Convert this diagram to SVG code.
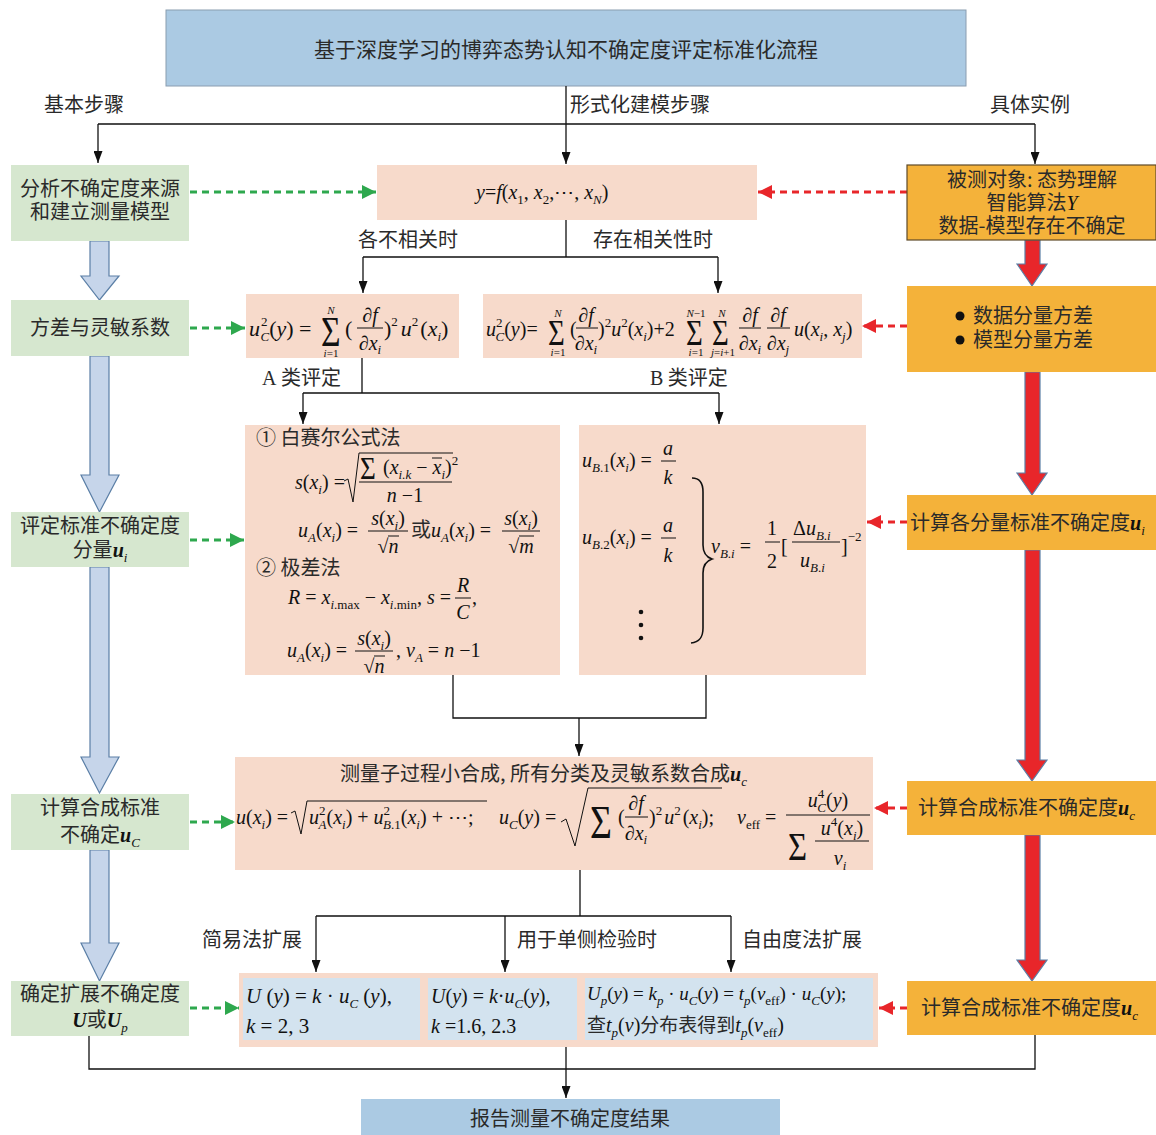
<svg xmlns="http://www.w3.org/2000/svg" width="1156" height="1135" viewBox="0 0 1156 1135">
<style>
.cn{font-family:"Noto Sans CJK SC","Noto Sans",sans-serif;font-size:20px;fill:#2a2a2a}
.m{font-family:"Liberation Serif","Times New Roman",serif;font-size:20px;font-style:italic;fill:#111}
.n{font-style:normal}
.s{font-size:13px}
.b{font-weight:bold}
.sig{font-family:"Liberation Serif","Times New Roman",serif;font-style:normal;fill:#111}
.green{fill:#d6e7cf}
.peach{fill:#f7dacb}
.orange{fill:#f4b23a}
.sky{fill:#abcae3;stroke:#8a9db0;stroke-width:1}
.cell{fill:#d3e3ef}
.ln{stroke:#111;stroke-width:1.3;fill:none}
.ga{stroke:#2ea84e;stroke-width:3;stroke-dasharray:7 5;fill:none}
.ra{stroke:#e8262a;stroke-width:3;stroke-dasharray:7 5;fill:none}
.blk{fill:#c6d5ea;stroke:#5b7fa6;stroke-width:1.2}
.red{fill:#e8262a;stroke:#5b7fa6;stroke-width:1.2}
.fl{stroke:#111;stroke-width:1;fill:none}
</style>
<defs>
<marker id="ab" viewBox="0 0 12 9" refX="12" refY="4.5" markerWidth="12" markerHeight="9" markerUnits="userSpaceOnUse" orient="auto"><path d="M0,0 L12,4.5 L0,9 z" fill="#111"/></marker>
<marker id="ag" viewBox="0 0 14 14" refX="14" refY="7" markerWidth="14" markerHeight="14" markerUnits="userSpaceOnUse" orient="auto"><path d="M0,0 L14,7 L0,14 z" fill="#2ea84e"/></marker>
<marker id="ar" viewBox="0 0 14 14" refX="14" refY="7" markerWidth="14" markerHeight="14" markerUnits="userSpaceOnUse" orient="auto"><path d="M0,0 L14,7 L0,14 z" fill="#e8262a"/></marker>
</defs>

<!-- Title -->
<g id="title">
<rect class="sky" x="166" y="10" width="800" height="76"/>
<text class="cn" x="566" y="57" text-anchor="middle" style="font-size:21px">基于深度学习的博弈态势认知不确定度评定标准化流程</text>
</g>
<g id="labels-top">
<text class="cn" x="44" y="112">基本步骤</text>
<text class="cn" x="570" y="112">形式化建模步骤</text>
<text class="cn" x="990" y="112">具体实例</text>
</g>

<!-- Connectors -->
<g id="connectors">
<path class="ln" d="M566,86 V124 M98,124 H1035"/>
<path class="ln" d="M98,124 V163" marker-end="url(#ab)"/>
<path class="ln" d="M566,124 V164" marker-end="url(#ab)"/>
<path class="ln" d="M1035,124 V164" marker-end="url(#ab)"/>
<path class="ln" d="M566,220 V257 M363,257 H718"/>
<path class="ln" d="M363,257 V293" marker-end="url(#ab)"/>
<path class="ln" d="M718,257 V293" marker-end="url(#ab)"/>
<path class="ln" d="M362,358 V393 M303,393 H719"/>
<path class="ln" d="M303,393 V424" marker-end="url(#ab)"/>
<path class="ln" d="M719,393 V424" marker-end="url(#ab)"/>
<path class="ln" d="M453,675 V718 H706 V675"/>
<path class="ln" d="M579,718 V756" marker-end="url(#ab)"/>
<path class="ln" d="M580,870 V916 M316,916 H731"/>
<path class="ln" d="M316,916 V972" marker-end="url(#ab)"/>
<path class="ln" d="M505,916 V972" marker-end="url(#ab)"/>
<path class="ln" d="M731,916 V972" marker-end="url(#ab)"/>
<path class="ln" d="M89,1036 V1069 H1035 V1035"/>
<path class="ln" d="M566,1046 V1098" marker-end="url(#ab)"/>
<!-- green dashed -->
<path class="ga" d="M190,192 H376" marker-end="url(#ag)"/>
<path class="ga" d="M190,328 H245" marker-end="url(#ag)"/>
<path class="ga" d="M190,540 H244" marker-end="url(#ag)"/>
<path class="ga" d="M190,822 H235" marker-end="url(#ag)"/>
<path class="ga" d="M190,1008 H239" marker-end="url(#ag)"/>
<!-- red dashed -->
<path class="ra" d="M907,192 H758" marker-end="url(#ar)"/>
<path class="ra" d="M907,326 H862" marker-end="url(#ar)"/>
<path class="ra" d="M907,522 H867" marker-end="url(#ar)"/>
<path class="ra" d="M907,808 H874" marker-end="url(#ar)"/>
<path class="ra" d="M907,1008 H879" marker-end="url(#ar)"/>
<!-- blue block arrows -->
<polygon class="blk" points="90,241 109,241 109,276 119,276 99.5,300 81,276 90,276"/>
<polygon class="blk" points="90,356 109,356 109,475 119,475 99.5,512 81,475 90,475"/>
<polygon class="blk" points="90,567 109,567 109,757 119,757 99.5,793 81,757 90,757"/>
<polygon class="blk" points="90,850 109,850 109,943 119,943 99.5,981 81,943 90,943"/>
<!-- red block arrows -->
<polygon class="red" points="1025,240 1040,240 1040,264 1047,264 1032,286 1017,264 1025,264"/>
<polygon class="red" points="1025,372 1040,372 1040,473 1047,473 1032,495 1017,473 1025,473"/>
<polygon class="red" points="1025,550 1040,550 1040,760 1047,760 1032,781 1017,760 1025,760"/>
<polygon class="red" points="1025,835 1040,835 1040,960 1047,960 1032,981 1017,960 1025,960"/>
</g>

<g id="branch-labels">
<text class="cn" x="358" y="247">各不相关时</text>
<text class="cn" x="593" y="247">存在相关性时</text>
<text class="cn" x="262" y="385"><tspan style="font-family:'Liberation Serif',serif">A</tspan> 类评定</text>
<text class="cn" x="650" y="385"><tspan style="font-family:'Liberation Serif',serif">B</tspan> 类评定</text>
<text class="cn" x="202" y="947">简易法扩展</text>
<text class="cn" x="517" y="947">用于单侧检验时</text>
<text class="cn" x="742" y="947">自由度法扩展</text>
</g>

<!-- Left column -->
<g id="L1"><rect class="green" x="11" y="165" width="178" height="76"/>
<text class="cn" x="100" y="196" text-anchor="middle">分析不确定度来源</text>
<text class="cn" x="100" y="219" text-anchor="middle">和建立测量模型</text></g>
<g id="L2"><rect class="green" x="11" y="300" width="178" height="56"/>
<text class="cn" x="100" y="335" text-anchor="middle">方差与灵敏系数</text></g>
<g id="L3"><rect class="green" x="11" y="512" width="178" height="55"/>
<text class="cn" x="100" y="533" text-anchor="middle">评定标准不确定度</text>
<text class="cn" x="100" y="557" text-anchor="middle">分量<tspan class="m b">u</tspan><tspan class="m s" dy="5">i</tspan></text></g>
<g id="L4"><rect class="green" x="11" y="794" width="178" height="56"/>
<text class="cn" x="100" y="815" text-anchor="middle">计算合成标准</text>
<text class="cn" x="100" y="842" text-anchor="middle">不确定<tspan class="m b">u</tspan><tspan class="m s" dy="5">C</tspan></text></g>
<g id="L5"><rect class="green" x="11" y="981" width="178" height="55"/>
<text class="cn" x="100" y="1001" text-anchor="middle">确定扩展不确定度</text>
<text class="cn" x="100" y="1027" text-anchor="middle"><tspan class="m b">U</tspan>或<tspan class="m b">U</tspan><tspan class="m s" dy="5">p</tspan></text></g>

<!-- Right column -->
<g id="R1"><rect class="orange" x="907" y="165" width="249" height="75" stroke="#5e4a28" stroke-width="1.2"/>
<text class="cn" x="1032" y="187" text-anchor="middle">被测对象: 态势理解</text>
<text class="cn" x="1032" y="210" text-anchor="middle">智能算法<tspan class="m">Y</tspan></text>
<text class="cn" x="1032" y="233" text-anchor="middle">数据-模型存在不确定</text></g>
<g id="R2"><rect class="orange" x="907" y="286" width="249" height="86"/>
<circle cx="960" cy="316" r="4.5" fill="#111"/><circle cx="960" cy="340" r="4.5" fill="#111"/>
<text class="cn" x="973" y="323">数据分量方差</text>
<text class="cn" x="973" y="347">模型分量方差</text></g>
<g id="R3"><rect class="orange" x="907" y="495" width="249" height="55"/>
<text class="cn" x="910" y="530">计算各分量标准不确定度<tspan class="m b">u</tspan><tspan class="m s" dy="5">i</tspan></text></g>
<g id="R4"><rect class="orange" x="907" y="781" width="249" height="54"/>
<text class="cn" x="918" y="815">计算合成标准不确定度<tspan class="m b">u</tspan><tspan class="m s" dy="5">c</tspan></text></g>
<g id="R5"><rect class="orange" x="907" y="981" width="249" height="54"/>
<text class="cn" x="921" y="1015">计算合成标准不确定度<tspan class="m b">u</tspan><tspan class="m s" dy="5">c</tspan></text></g>

<!-- Model box -->
<g id="M1"><rect class="peach" x="377" y="165" width="380" height="55"/>
<text class="m" x="476" y="199">y<tspan class="n">=</tspan>f<tspan class="n">(</tspan>x<tspan class="s n" dy="5">1</tspan><tspan class="n" dy="-5">, </tspan>x<tspan class="s n" dy="5">2</tspan><tspan class="n" dy="-5">,⋯, </tspan>x<tspan class="s" dy="5">N</tspan><tspan class="n" dy="-5">)</tspan></text></g>

<!-- Uncorrelated -->
<g id="M2"><rect class="peach" x="246" y="294" width="213" height="64"/>
<text class="m" x="249" y="336" style="font-size:22px">u<tspan class="s n" dx="1" dy="-10">2</tspan><tspan class="s" dx="-7" dy="15">C</tspan><tspan class="n" dy="-5">(</tspan>y<tspan class="n">) =</tspan></text>
<text class="sig" transform="translate(321,346) scale(0.8,1)" style="font-size:42px">Σ</text>
<text class="m" x="331" y="314" text-anchor="middle" style="font-size:11px">N</text>
<text class="m" x="331" y="357" text-anchor="middle" style="font-size:11px">i<tspan class="n">=1</tspan></text>
<text class="m n" x="345" y="336" style="font-size:22px">(</text>
<text class="m" x="370" y="322" text-anchor="middle">∂f</text>
<line class="fl" x1="357" y1="328" x2="383" y2="328"/>
<text class="m" x="370" y="350" text-anchor="middle">∂x<tspan class="s" dy="4">i</tspan></text>
<text class="m" x="384" y="336" style="font-size:22px"><tspan class="n">)</tspan><tspan class="s n" dy="-10">2</tspan><tspan dx="3" dy="10">u</tspan><tspan class="s n" dy="-10">2</tspan><tspan class="n" dx="2" dy="10">(</tspan>x<tspan class="s" dy="5">i</tspan><tspan class="n" dy="-5">)</tspan></text></g>

<!-- Correlated -->
<g id="M3"><rect class="peach" x="483" y="294" width="379" height="64"/>
<text class="m" x="486" y="336" style="font-size:20px">u<tspan class="s n" dy="-9">2</tspan><tspan class="s" dx="-7" dy="14">C</tspan><tspan class="n" dy="-5">(</tspan>y<tspan class="n">)=</tspan></text>
<text class="sig" transform="translate(548,345) scale(0.8,1)" style="font-size:36px">Σ</text>
<text class="m" x="558" y="317" text-anchor="middle" style="font-size:11px">N</text>
<text class="m" x="558" y="356" text-anchor="middle" style="font-size:11px">i<tspan class="n">=1</tspan></text>
<text class="m n" x="570" y="336">(</text>
<text class="m" x="586" y="322" text-anchor="middle">∂f</text>
<line class="fl" x1="576" y1="328" x2="598" y2="328"/>
<text class="m" x="586" y="350" text-anchor="middle">∂x<tspan class="s" dy="4">i</tspan></text>
<text class="m" x="598" y="336"><tspan class="n">)</tspan><tspan class="s n" dy="-9">2</tspan><tspan dy="9">u</tspan><tspan class="s n" dy="-9">2</tspan><tspan class="n" dy="9">(</tspan>x<tspan class="s" dy="5">i</tspan><tspan class="n" dy="-5">)+2</tspan></text>
<text class="sig" transform="translate(686,345) scale(0.8,1)" style="font-size:36px">Σ</text>
<text class="m" x="696" y="317" text-anchor="middle" style="font-size:11px">N<tspan class="n">−1</tspan></text>
<text class="m" x="696" y="356" text-anchor="middle" style="font-size:11px">i<tspan class="n">=1</tspan></text>
<text class="sig" transform="translate(712,345) scale(0.8,1)" style="font-size:36px">Σ</text>
<text class="m" x="722" y="317" text-anchor="middle" style="font-size:11px">N</text>
<text class="m" x="723" y="356" text-anchor="middle" style="font-size:11px">j<tspan class="n">=</tspan>i<tspan class="n">+1</tspan></text>
<text class="m" x="750" y="322" text-anchor="middle">∂f</text>
<line class="fl" x1="739" y1="328" x2="761" y2="328"/>
<text class="m" x="750" y="350" text-anchor="middle">∂x<tspan class="s" dy="4">i</tspan></text>
<text class="m" x="778" y="322" text-anchor="middle">∂f</text>
<line class="fl" x1="767" y1="328" x2="790" y2="328"/>
<text class="m" x="778" y="350" text-anchor="middle">∂x<tspan class="s" dy="4">j</tspan></text>
<text class="m" x="794" y="336">u<tspan class="n">(</tspan>x<tspan class="s" dy="5">i</tspan><tspan class="n" dy="-5">, </tspan>x<tspan class="s" dy="5">j</tspan><tspan class="n" dy="-5">)</tspan></text></g>

<!-- Type A -->
<g id="TA"><rect class="peach" x="245" y="425" width="315" height="250"/>
<text class="cn" x="256" y="445">① 白赛尔公式法</text>
<text class="m" x="295" y="489">s<tspan class="n">(</tspan>x<tspan class="s" dy="5">i</tspan><tspan class="n" dy="-5">) =</tspan></text>
<path class="fl" d="M344,481 L348,479 L353,502 L359,453 H453" stroke-width="1.2"/>
<text class="sig" transform="translate(360,479) scale(0.85,1)" style="font-size:32px">Σ</text>
<text class="m" x="383" y="474"><tspan class="n">(</tspan>x<tspan class="s" dy="5">i.k</tspan><tspan class="n" dy="-5"> − </tspan>x<tspan class="s" dy="5">i</tspan><tspan class="n" dy="-5">)</tspan><tspan class="s n" dy="-9">2</tspan></text>
<line class="fl" x1="432" y1="458" x2="442" y2="458"/>
<line class="fl" x1="359" y1="482" x2="452" y2="482"/>
<text class="m" x="405" y="502" text-anchor="middle">n<tspan class="n"> −1</tspan></text>
<text class="m" x="298" y="537">u<tspan class="s" dy="5">A</tspan><tspan class="n" dy="-5">(</tspan>x<tspan class="s" dy="5">i</tspan><tspan class="n" dy="-5">) =</tspan></text>
<text class="m" x="388" y="525" text-anchor="middle">s<tspan class="n">(</tspan>x<tspan class="s" dy="5">i</tspan><tspan class="n" dy="-5">)</tspan></text>
<line class="fl" x1="368" y1="531" x2="408" y2="531"/>
<text class="m" x="388" y="553" text-anchor="middle"><tspan class="n">√</tspan>n</text>
<line class="fl" x1="388" y1="536" x2="399" y2="536"/>
<text class="cn" x="411" y="537">或</text>
<text class="m" x="431" y="537">u<tspan class="s" dy="5">A</tspan><tspan class="n" dy="-5">(</tspan>x<tspan class="s" dy="5">i</tspan><tspan class="n" dy="-5">) =</tspan></text>
<text class="m" x="521" y="525" text-anchor="middle">s<tspan class="n">(</tspan>x<tspan class="s" dy="5">i</tspan><tspan class="n" dy="-5">)</tspan></text>
<line class="fl" x1="502" y1="531" x2="540" y2="531"/>
<text class="m" x="521" y="553" text-anchor="middle"><tspan class="n">√</tspan>m</text>
<line class="fl" x1="519" y1="536" x2="534" y2="536"/>
<text class="cn" x="256" y="575">② 极差法</text>
<text class="m" x="288" y="604">R<tspan class="n"> = </tspan>x<tspan class="s" dy="5">i<tspan class="n">.max</tspan></tspan><tspan class="n" dy="-5"> − </tspan>x<tspan class="s" dy="5">i<tspan class="n">.min</tspan></tspan><tspan class="n" dy="-5">,   </tspan>s<tspan class="n"> =</tspan></text>
<text class="m" x="463" y="592" text-anchor="middle">R</text>
<line class="fl" x1="455" y1="598" x2="471" y2="598"/>
<text class="m" x="463" y="619" text-anchor="middle">C</text>
<text class="m n" x="472" y="604">,</text>
<text class="m" x="287" y="657">u<tspan class="s" dy="5">A</tspan><tspan class="n" dy="-5">(</tspan>x<tspan class="s" dy="5">i</tspan><tspan class="n" dy="-5">) =</tspan></text>
<text class="m" x="374" y="645" text-anchor="middle">s<tspan class="n">(</tspan>x<tspan class="s" dy="5">i</tspan><tspan class="n" dy="-5">)</tspan></text>
<line class="fl" x1="355" y1="651" x2="393" y2="651"/>
<text class="m" x="374" y="673" text-anchor="middle"><tspan class="n">√</tspan>n</text>
<line class="fl" x1="374" y1="656" x2="385" y2="656"/>
<text class="m" x="396" y="657"><tspan class="n">,  </tspan>ν<tspan class="s" dy="5">A</tspan><tspan class="n" dy="-5"> = </tspan>n<tspan class="n"> −1</tspan></text></g>

<!-- Type B -->
<g id="TB"><rect class="peach" x="579" y="425" width="287" height="250"/>
<text class="m" x="582" y="467">u<tspan class="s" dy="5">B<tspan class="n">.1</tspan></tspan><tspan class="n" dy="-5">(</tspan>x<tspan class="s" dy="5">i</tspan><tspan class="n" dy="-5">) =</tspan></text>
<text class="m" x="668" y="455" text-anchor="middle">a</text>
<line class="fl" x1="661" y1="461" x2="676" y2="461"/>
<text class="m" x="668" y="484" text-anchor="middle">k</text>
<text class="m" x="582" y="544">u<tspan class="s" dy="5">B<tspan class="n">.2</tspan></tspan><tspan class="n" dy="-5">(</tspan>x<tspan class="s" dy="5">i</tspan><tspan class="n" dy="-5">) =</tspan></text>
<text class="m" x="668" y="532" text-anchor="middle">a</text>
<line class="fl" x1="661" y1="538" x2="676" y2="538"/>
<text class="m" x="668" y="562" text-anchor="middle">k</text>
<circle cx="641" cy="612" r="2.3" fill="#111"/><circle cx="641" cy="625" r="2.3" fill="#111"/><circle cx="641" cy="638" r="2.3" fill="#111"/>
<path d="M692,478 C700,478 703,483 703,492 V545 C703,553 706,557 712,559 C706,561 703,565 703,573 V628 C703,637 700,642 691,643" fill="none" stroke="#111" stroke-width="1.6"/>
<text class="m" x="711" y="553">ν<tspan class="s" dy="5">B<tspan class="n">.</tspan>i</tspan><tspan class="n" dy="-5"> =</tspan></text>
<text class="m n" x="772" y="535" text-anchor="middle">1</text>
<line class="fl" x1="765" y1="542" x2="780" y2="542"/>
<text class="m n" x="772" y="568" text-anchor="middle">2</text>
<text class="m n" x="781" y="553">[</text>
<text class="m" x="793" y="535"><tspan class="n">Δ</tspan>u<tspan class="s" dy="5">B<tspan class="n">.</tspan>i</tspan></text>
<line class="fl" x1="792" y1="542" x2="840" y2="542"/>
<text class="m" x="800" y="567">u<tspan class="s" dy="5">B<tspan class="n">.</tspan>i</tspan></text>
<text class="m n" x="841" y="553">]<tspan class="s" dy="-12">−2</tspan></text></g>

<!-- Combined -->
<g id="CB"><rect class="peach" x="235" y="757" width="638" height="113"/>
<text class="cn" x="340" y="781">测量子过程小合成, 所有分类及灵敏系数合成<tspan class="m b">u</tspan><tspan class="m s" dy="5">c</tspan></text>
<text class="m" x="236" y="824">u<tspan class="n">(</tspan>x<tspan class="s" dy="5">i</tspan><tspan class="n" dy="-5">) =</tspan></text>
<path class="fl" d="M291,813 L295,811 L301,834 L307,801 H487" stroke-width="1.2"/>
<text class="m" x="309" y="824">u<tspan class="s n" dy="-9">2</tspan><tspan class="s" dx="-7" dy="14">A</tspan><tspan class="n" dy="-5">(</tspan>x<tspan class="s" dy="5">i</tspan><tspan class="n" dy="-5">) + </tspan>u<tspan class="s n" dy="-9">2</tspan><tspan class="s" dx="-7" dy="14">B<tspan class="n">.1</tspan></tspan><tspan class="n" dy="-5">(</tspan>x<tspan class="s" dy="5">i</tspan><tspan class="n" dy="-5">) + ⋯;</tspan></text>
<text class="m" x="499" y="824">u<tspan class="s" dy="5">C</tspan><tspan class="n" dy="-5">(</tspan>y<tspan class="n">) =</tspan></text>
<path class="fl" d="M561,822 L566,819 L575,846 L588,788 H722" stroke-width="1.2"/>
<text class="sig" transform="translate(590,838) scale(0.82,1)" style="font-size:46px">Σ</text>
<text class="m n" x="618" y="824">(</text>
<text class="m" x="636" y="810" text-anchor="middle">∂f</text>
<line class="fl" x1="625" y1="817" x2="648" y2="817"/>
<text class="m" x="636" y="840" text-anchor="middle">∂x<tspan class="s" dy="4">i</tspan></text>
<text class="m" x="649" y="824"><tspan class="n">)</tspan><tspan class="s n" dy="-9">2</tspan><tspan dx="2" dy="9">u</tspan><tspan class="s n" dy="-9">2</tspan><tspan class="n" dx="2" dy="9">(</tspan>x<tspan class="s" dy="5">i</tspan><tspan class="n" dy="-5">);</tspan></text>
<text class="m" x="737" y="824">ν<tspan class="s n" dy="5">eff</tspan><tspan class="n" dy="-5"> =</tspan></text>
<text class="m" x="828" y="807" text-anchor="middle">u<tspan class="s n" dy="-9">4</tspan><tspan class="s" dx="-7" dy="14">C</tspan><tspan class="n" dy="-5">(</tspan>y<tspan class="n">)</tspan></text>
<line class="fl" x1="786" y1="815" x2="870" y2="815"/>
<text class="sig" transform="translate(788,860) scale(0.82,1)" style="font-size:40px">Σ</text>
<text class="m" x="842" y="835" text-anchor="middle">u<tspan class="s n" dy="-9">4</tspan><tspan class="n" dy="9">(</tspan>x<tspan class="s" dy="5">i</tspan><tspan class="n" dy="-5">)</tspan></text>
<line class="fl" x1="815" y1="841" x2="869" y2="841"/>
<text class="m" x="840" y="865" text-anchor="middle">ν<tspan class="s" dy="5">i</tspan></text></g>

<!-- Expanded -->
<g id="EX"><rect class="peach" x="239" y="973" width="639" height="74"/>
<rect class="cell" x="243" y="978" width="177" height="62"/>
<rect class="cell" x="428" y="978" width="149" height="62"/>
<rect class="cell" x="585" y="978" width="288" height="62"/>
<text class="m" x="246" y="1003" style="font-size:21px">U<tspan class="n"> (</tspan>y<tspan class="n">) = </tspan>k<tspan class="n"> · </tspan>u<tspan class="s" dy="5">C</tspan><tspan class="n" dy="-5"> (</tspan>y<tspan class="n">),</tspan></text>
<text class="m" x="246" y="1033" style="font-size:21px">k<tspan class="n"> = 2, 3</tspan></text>
<text class="m" x="431" y="1003">U<tspan class="n">(</tspan>y<tspan class="n">) = </tspan>k<tspan class="n">·</tspan>u<tspan class="s" dy="5">C</tspan><tspan class="n" dy="-5">(</tspan>y<tspan class="n">),</tspan></text>
<text class="m" x="431" y="1033">k<tspan class="n"> =1.6, 2.3</tspan></text>
<text class="m" x="587" y="1000" style="font-size:19px">U<tspan class="s" dy="5">p</tspan><tspan class="n" dy="-5">(</tspan>y<tspan class="n">) = </tspan>k<tspan class="s" dy="5">p</tspan><tspan class="n" dy="-5"> · </tspan>u<tspan class="s" dy="5">C</tspan><tspan class="n" dy="-5">(</tspan>y<tspan class="n">) = </tspan>t<tspan class="s" dy="5">p</tspan><tspan class="n" dy="-5">(</tspan>ν<tspan class="s n" dy="5">eff</tspan><tspan class="n" dy="-5">) · </tspan>u<tspan class="s" dy="5">C</tspan><tspan class="n" dy="-5">(</tspan>y<tspan class="n">);</tspan></text>
<text class="cn" x="587" y="1032" style="font-size:19px">查<tspan class="m">t</tspan><tspan class="m s" dy="5">p</tspan><tspan class="m n" dy="-5">(</tspan><tspan class="m">ν</tspan><tspan class="m n">)</tspan>分布表得到<tspan class="m">t</tspan><tspan class="m s" dy="5">p</tspan><tspan class="m n" dy="-5">(</tspan><tspan class="m">ν</tspan><tspan class="m s n" dy="5">eff</tspan><tspan class="m n" dy="-5">)</tspan></text></g>

<!-- Report -->
<g id="RP"><rect x="361" y="1099" width="419" height="40" fill="#abcae3"/>
<text class="cn" x="570" y="1126" text-anchor="middle">报告测量不确定度结果</text></g>
</svg>
